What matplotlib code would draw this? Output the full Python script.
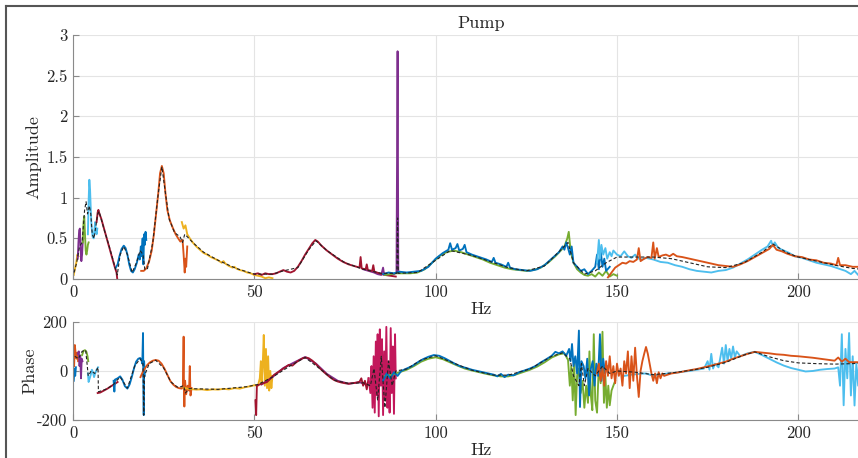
import matplotlib
matplotlib.use("Agg")
import matplotlib.pyplot as plt
from matplotlib.lines import Line2D

# ---- data (Hz, value) ----
amp_yellow0 = [(0.2, 0.05), (0.5, 0.12), (0.9, 0.2), (1.2, 0.3), (1.5, 0.28)]
amp_purple0 = [(1.3, 0.25), (1.5, 0.45), (1.7, 0.6), (1.9, 0.62), (2.1, 0.35), (2.3, 0.22),
               (2.5, 0.3), (2.7, 0.48), (2.9, 0.5)]
amp_green0 = [(2.7, 0.45), (2.9, 0.7), (3.1, 0.77), (3.3, 0.55), (3.5, 0.35), (3.7, 0.3),
              (3.9, 0.35), (4.1, 0.42), (4.3, 0.45)]
amp_lblue0 = [(4.1, 0.55), (4.3, 0.95), (4.5, 1.22), (4.7, 1.1), (4.9, 0.85), (5.1, 0.65),
              (5.4, 0.52), (5.7, 0.5), (5.9, 0.6), (6.1, 0.7), (6.3, 0.6), (6.5, 0.55), (6.7, 0.62)]
amp_dred0 = [(6.5, 0.7), (6.8, 0.82), (7.0, 0.85), (7.3, 0.8), (7.8, 0.74), (8.3, 0.66),
             (8.8, 0.58), (9.3, 0.5), (9.8, 0.42), (10.3, 0.34), (10.8, 0.26), (11.3, 0.18),
             (11.7, 0.12), (12.0, 0.08), (12.2, 0.0)]
amp_blue0 = [(11.8, 0.14), (12.3, 0.18), (12.8, 0.28), (13.4, 0.37), (14.0, 0.41), (14.5, 0.38),
             (15.0, 0.3), (15.5, 0.18), (16.0, 0.1), (16.5, 0.08), (17.0, 0.12), (17.6, 0.2),
             (18.1, 0.3), (18.4, 0.24), (18.7, 0.4), (18.9, 0.28), (19.2, 0.5), (19.4, 0.18),
             (19.6, 0.55), (19.8, 0.42), (20.0, 0.58), (20.2, 0.48)]
amp_orange1 = [(18.8, 0.1), (19.5, 0.1), (20.2, 0.13), (21.0, 0.22), (21.7, 0.35), (22.3, 0.55),
               (22.9, 0.8), (23.5, 1.05), (24.0, 1.3), (24.5, 1.39), (25.0, 1.3), (25.5, 1.05),
               (26.0, 0.85), (26.7, 0.72), (27.5, 0.63), (28.3, 0.55), (29.0, 0.5), (29.6, 0.46),
               (30.2, 0.48), (30.5, 0.3), (30.8, 0.08), (31.0, 0.25), (31.2, 0.15), (31.5, 0.4)]
amp_yellow1 = [(30.0, 0.7), (30.5, 0.62), (31.0, 0.66), (31.5, 0.55), (32.2, 0.5), (33.0, 0.45),
               (34.0, 0.4), (35.0, 0.36), (36.0, 0.32), (37.0, 0.3), (38.0, 0.27), (39.0, 0.25),
               (40.0, 0.23), (41.0, 0.2), (41.5, 0.22), (42.0, 0.19), (43.0, 0.16), (44.0, 0.14),
               (44.5, 0.15), (45.0, 0.13), (46.0, 0.11), (47.0, 0.1), (48.0, 0.08), (49.0, 0.07),
               (50.0, 0.05), (51.0, 0.04), (52.0, 0.03), (53.0, 0.01), (54.0, 0.02), (55.0, 0.01)]
amp_dred1 = [(50.0, 0.06), (51.0, 0.07), (52.0, 0.05), (53.0, 0.07), (54.0, 0.06), (55.0, 0.06),
             (56.0, 0.07), (57.0, 0.09), (58.0, 0.11), (59.0, 0.09), (60.0, 0.08), (61.0, 0.1),
             (62.0, 0.15), (63.0, 0.22), (64.0, 0.3), (65.0, 0.37), (66.0, 0.44), (66.8, 0.48),
             (67.5, 0.46), (68.5, 0.41), (70.0, 0.35), (71.5, 0.3), (73.0, 0.25), (74.5, 0.21),
             (76.0, 0.18), (77.5, 0.16), (79.0, 0.14), (79.3, 0.27), (79.6, 0.13), (80.7, 0.12),
             (81.0, 0.18), (81.3, 0.11), (82.5, 0.1), (82.8, 0.17), (83.1, 0.09), (84.5, 0.07),
             (86.0, 0.05), (87.5, 0.04), (89.0, 0.03)]
amp_purple1 = [(80.0, 0.12), (81.5, 0.1), (83.0, 0.08), (84.0, 0.06), (85.0, 0.05), (85.5, 0.14),
               (85.8, 0.05), (87.0, 0.05), (88.5, 0.06), (89.2, 0.08), (89.5, 2.8), (89.7, 0.08),
               (90.0, 0.08)]
amp_green1 = [(86.0, 0.05), (87.5, 0.06), (89.0, 0.07), (91.0, 0.07), (93.0, 0.07), (95.0, 0.08),
              (97.0, 0.12), (99.0, 0.2), (101.0, 0.28), (103.0, 0.33), (105.0, 0.35), (107.0, 0.33),
              (109.0, 0.3), (111.0, 0.27), (113.0, 0.24), (115.0, 0.2), (117.0, 0.17), (119.0, 0.14),
              (121.0, 0.12), (123.0, 0.11), (125.0, 0.1), (127.0, 0.11), (129.0, 0.14), (131.0, 0.2),
              (133.0, 0.28), (134.5, 0.35), (135.5, 0.4), (136.3, 0.5), (136.7, 0.58), (137.2, 0.35),
              (138.0, 0.2), (139.0, 0.12), (140.0, 0.08), (141.0, 0.05), (142.0, 0.04), (143.0, 0.06),
              (144.0, 0.03), (145.0, 0.08), (146.0, 0.04), (147.0, 0.1), (148.0, 0.03), (149.0, 0.06),
              (150.0, 0.04)]
amp_blue1 = [(85.5, 0.06), (87.0, 0.08), (88.5, 0.07), (90.0, 0.09), (92.0, 0.08), (94.0, 0.09),
             (96.0, 0.1), (98.0, 0.15), (100.0, 0.25), (102.0, 0.32), (103.5, 0.36), (104.0, 0.44),
             (104.5, 0.36), (105.5, 0.38), (106.0, 0.43), (106.5, 0.35), (107.5, 0.37), (108.0, 0.42),
             (108.5, 0.33), (110.0, 0.3), (112.0, 0.27), (114.0, 0.24), (115.5, 0.21), (116.0, 0.26),
             (116.5, 0.2), (118.0, 0.18), (119.5, 0.15), (120.0, 0.2), (120.5, 0.14), (122.0, 0.12),
             (124.0, 0.11), (126.0, 0.1), (128.0, 0.12), (130.0, 0.17), (132.0, 0.25), (134.0, 0.33),
             (135.0, 0.4), (135.5, 0.36), (136.0, 0.45), (136.5, 0.38), (137.0, 0.3), (137.5, 0.4),
             (138.0, 0.2), (139.0, 0.15), (140.0, 0.1), (141.0, 0.12), (142.0, 0.06), (143.0, 0.1),
             (144.0, 0.15), (144.5, 0.3), (145.0, 0.12), (145.5, 0.35), (146.0, 0.15), (146.5, 0.25),
             (147.0, 0.1), (148.0, 0.15)]
amp_lblue1 = [(144.5, 0.2), (145.0, 0.48), (145.3, 0.25), (145.7, 0.42), (146.2, 0.3), (146.8, 0.38),
              (147.3, 0.25), (148.0, 0.33), (148.5, 0.28), (149.0, 0.35), (150.0, 0.3), (151.0, 0.28),
              (152.0, 0.34), (153.0, 0.28), (154.0, 0.26), (155.0, 0.3), (156.0, 0.25), (157.0, 0.24),
              (158.0, 0.26), (160.0, 0.24), (162.0, 0.21), (164.0, 0.2), (166.0, 0.17), (168.0, 0.15),
              (170.0, 0.12), (172.0, 0.1), (174.0, 0.09), (176.0, 0.08), (178.0, 0.1), (180.0, 0.11),
              (182.0, 0.14), (184.0, 0.19), (186.0, 0.24), (188.0, 0.3), (190.0, 0.36), (191.5, 0.4),
              (192.5, 0.47), (193.0, 0.4), (193.5, 0.45), (194.5, 0.38), (196.0, 0.35), (197.5, 0.32),
              (199.0, 0.28), (201.0, 0.26), (203.0, 0.23), (205.0, 0.2), (207.0, 0.18), (209.0, 0.16),
              (211.0, 0.13), (213.0, 0.1), (214.5, 0.06), (215.5, 0.1), (216.5, 0.05), (218.0, 0.08),
              (220.0, 0.06), (222.0, 0.07), (225.0, 0.06)]
amp_orange2 = [(147.5, 0.02), (148.5, 0.08), (149.5, 0.14), (150.5, 0.17), (151.5, 0.2), (152.5, 0.19),
               (153.5, 0.22), (154.5, 0.21), (155.5, 0.24), (156.0, 0.38), (156.5, 0.22), (157.5, 0.25),
               (158.5, 0.27), (159.5, 0.26), (160.0, 0.45), (160.4, 0.25), (161.0, 0.38), (161.5, 0.27),
               (162.5, 0.29), (163.5, 0.3), (164.5, 0.28), (165.5, 0.31), (166.5, 0.28), (168.0, 0.27),
               (170.0, 0.25), (172.0, 0.23), (174.0, 0.21), (176.0, 0.19), (178.0, 0.17), (180.0, 0.16),
               (182.0, 0.15), (184.0, 0.18), (186.0, 0.22), (188.0, 0.27), (190.0, 0.32), (192.0, 0.37),
               (193.0, 0.42), (194.0, 0.36), (195.5, 0.34), (197.0, 0.31), (199.0, 0.28), (201.0, 0.27),
               (203.0, 0.24), (205.0, 0.23), (207.0, 0.2), (209.0, 0.19), (210.5, 0.17), (211.0, 0.26),
               (211.5, 0.17), (213.0, 0.17), (215.0, 0.15), (217.0, 0.15), (219.0, 0.13), (221.0, 0.14),
               (223.0, 0.12), (225.0, 0.13)]
amp_model = [(0.3, 0.08), (1.0, 0.2), (1.8, 0.4), (2.5, 0.45), (3.2, 0.85), (3.6, 0.95), (4.0, 0.8),
             (4.5, 0.9), (4.9, 0.8), (5.3, 0.55), (5.8, 0.5), (6.3, 0.65), (6.8, 0.8), (7.2, 0.83),
             (8.5, 0.62), (10.0, 0.4), (11.5, 0.16), (12.2, 0.05), (13.0, 0.3), (14.0, 0.4), (15.0, 0.3),
             (16.3, 0.08), (17.5, 0.2), (18.5, 0.35), (19.3, 0.3), (19.8, 0.12), (20.5, 0.12), (22.0, 0.45),
             (23.5, 1.05), (24.5, 1.38), (25.5, 1.05), (26.5, 0.74), (28.0, 0.57), (29.5, 0.52),
             (30.2, 0.45), (30.8, 0.55), (31.5, 0.52), (33.0, 0.45), (36.0, 0.33), (40.0, 0.23),
             (45.0, 0.13), (50.0, 0.06), (55.0, 0.06), (58.0, 0.1), (62.0, 0.14), (65.0, 0.36),
             (67.0, 0.47), (70.0, 0.35), (75.0, 0.2), (80.0, 0.12), (85.0, 0.07), (89.3, 0.07),
             (89.5, 0.75), (89.7, 0.07), (95.0, 0.08), (100.0, 0.23), (104.0, 0.35), (110.0, 0.29),
             (120.0, 0.14), (125.0, 0.1), (130.0, 0.16), (135.0, 0.38), (136.5, 0.45), (138.0, 0.2),
             (141.0, 0.06), (144.0, 0.1), (147.0, 0.2), (150.0, 0.27), (155.0, 0.27), (160.0, 0.27),
             (165.0, 0.25), (170.0, 0.2), (175.0, 0.15), (180.0, 0.14), (185.0, 0.2), (190.0, 0.33),
             (193.0, 0.43), (197.0, 0.32), (200.0, 0.27), (205.0, 0.22), (210.0, 0.17), (215.0, 0.13),
             (220.0, 0.11), (225.0, 0.1)]

ph_orange0 = [(0.3, 20), (0.5, 106), (0.8, 60), (1.0, 50), (1.2, 75), (1.4, 40)]
ph_blue0 = [(0.2, -40), (0.4, 10), (0.6, -20), (0.8, 15)]
ph_purple0 = [(1.3, 70), (1.6, 80), (1.8, 20), (2.0, 60), (2.2, -30), (2.4, 50), (2.6, 40)]
ph_green0 = [(2.5, 65), (2.9, 82), (3.3, 85), (3.7, 78), (4.0, 60), (4.2, 40)]
ph_lblue0 = [(4.1, -10), (4.3, -45), (4.6, -30), (4.9, -15), (5.2, 5), (5.5, -5), (5.8, -25),
             (6.1, -10), (6.5, 5), (6.9, 15)]
ph_dred0 = [(6.8, -90), (7.5, -88), (8.5, -80), (9.5, -72), (10.5, -62), (11.3, -55), (12.0, -48),
            (12.3, -45)]
ph_blue1 = [(11.2, -40), (11.4, -84), (11.6, -35), (12.3, -30), (13.0, -22), (13.6, -35), (14.3, -62),
            (15.0, -72), (15.6, -55), (16.2, -25), (16.8, 10), (17.4, 38), (18.0, 50), (18.5, 53),
            (18.9, 45), (19.1, 30), (19.3, 155), (19.4, -50), (19.5, -180), (19.6, 40), (19.8, -20)]
ph_orange1 = [(18.6, -25), (19.2, -5), (19.8, 10), (20.5, 25), (21.2, 35), (22.0, 42), (22.8, 45),
              (23.6, 42), (24.4, 30), (25.2, 10), (26.0, -15), (26.8, -40), (27.6, -55), (28.4, -65),
              (29.2, -70), (30.0, -72), (30.3, -60), (30.5, 140), (30.6, -80), (30.7, -145),
              (30.9, -40), (31.2, -95), (31.6, -60), (32.0, -80), (32.2, 20), (32.4, -100), (32.7, -70)]
ph_yellow1 = [(30.5, -68), (31.5, -72), (32.5, -74), (34.0, -76), (35.5, -75), (37.0, -78),
              (38.5, -75), (40.0, -76), (41.5, -73), (43.0, -75), (44.5, -70), (46.0, -72),
              (47.5, -66), (49.0, -62), (50.0, -58), (51.0, -60), (51.5, -30), (51.8, 40),
              (52.0, -50), (52.3, 20), (52.6, 147), (52.9, -60), (53.2, 90), (53.5, -70),
              (53.8, 60), (54.1, -80), (54.4, 0), (54.7, -70), (55.0, -20)]
ph_dred1 = [(50.3, -120), (50.5, -180), (50.7, -60), (51.5, -55), (52.5, -50), (53.5, -45),
            (54.5, -30), (55.5, -15), (56.5, -5), (57.5, 5), (58.5, 15), (59.5, 25), (60.5, 22),
            (61.5, 35), (62.5, 45), (63.5, 53), (64.3, 55), (65.0, 52), (66.0, 42), (67.0, 28),
            (68.0, 12), (69.0, -2), (70.0, -15), (71.0, -27), (72.0, -37), (73.0, -43), (74.0, -47),
            (75.0, -50), (76.0, -52), (77.0, -50), (78.0, -48), (79.0, -44), (79.5, -30),
            (80.0, -60), (80.5, -40), (81.0, -75), (81.5, -30)]
ph_dred2 = [(81.5, -30), (82.0, -90), (82.3, 20), (82.6, -150), (82.9, 60), (83.2, -170),
            (83.5, 120), (83.8, -100), (84.0, 150), (84.3, -185), (84.6, 170), (84.9, -60),
            (85.2, 130), (85.5, -180), (85.8, 80), (86.1, -120), (86.4, 180), (86.7, -150),
            (87.0, 40), (87.3, -170), (87.6, 175), (87.9, -90), (88.2, 100), (88.5, -175),
            (88.8, 150), (89.0, -30)]
ph_purple1 = [(52.0, -55), (55.0, -25), (58.0, 12), (61.0, 35), (64.0, 57), (67.0, 30),
              (70.0, -12), (73.0, -40), (76.0, -52), (79.0, -46), (82.0, -60), (84.0, -20),
              (86.0, -70), (88.0, 20)]
ph_blue2 = [(85.5, -40), (86.5, -10), (87.5, -30), (88.5, -5), (89.5, -20), (90.5, 0), (92.0, 10),
            (93.5, 20), (95.0, 35), (96.5, 48), (98.0, 58), (99.5, 65), (101.0, 62), (102.5, 52),
            (104.0, 40), (105.5, 28), (107.0, 18), (108.5, 12), (110.0, 5), (111.5, 0), (113.0, -5),
            (114.5, -10), (116.0, -15), (117.0, -22), (118.0, -12), (119.0, -25), (120.0, -15),
            (121.5, -18), (123.0, -5), (124.5, 2), (126.0, 10), (127.5, 20), (129.0, 35),
            (130.5, 48), (132.0, 62), (133.0, 78), (134.0, 72), (135.0, 80), (136.0, 62),
            (136.8, 90), (137.2, 40), (137.6, 110), (138.0, 20), (138.5, 60), (139.0, -10),
            (139.5, 165), (139.8, -147), (140.2, 40), (140.8, 20), (141.3, -30), (141.8, 50),
            (142.3, -100), (142.8, 10), (143.3, 40), (143.8, -60), (144.3, 30), (144.8, -20),
            (145.3, 150), (145.7, -40), (146.2, 50), (146.7, -10), (147.2, 20)]
ph_green2 = [(86.0, -20), (88.0, -15), (90.0, -5), (92.0, 5), (94.0, 20), (96.0, 38), (98.0, 50),
             (100.0, 56), (102.0, 48), (104.0, 35), (106.0, 22), (108.0, 10), (110.0, 2),
             (112.0, -5), (114.0, -12), (116.0, -18), (118.0, -22), (120.0, -22), (122.0, -15),
             (124.0, -5), (126.0, 5), (128.0, 18), (130.0, 35), (132.0, 55), (134.0, 68),
             (135.5, 72), (136.5, 45), (137.0, -60), (137.4, 20), (137.8, -120), (138.2, 30),
             (138.6, -180), (139.0, -20), (139.4, 10), (140.0, -90), (140.5, -40), (141.0, -150),
             (141.5, -60), (142.0, -130), (142.4, 80), (142.8, -100), (143.2, -160), (143.6, 150),
             (144.0, -120), (144.5, -170), (145.0, 30), (145.5, -50), (146.0, 160), (146.4, -130),
             (146.8, -20), (147.2, -150), (147.6, -60), (148.0, -140), (148.5, -80), (149.0, -60),
             (149.5, -40)]
ph_orange2 = [(144.5, -10), (145.0, 30), (145.5, -40), (146.0, 10), (146.5, -60), (147.0, 40),
              (147.5, -20), (148.0, 60), (148.5, -30), (149.0, 20), (149.5, -50), (150.0, 30),
              (150.5, -20), (151.0, 10), (151.5, -60), (152.0, 40), (152.5, -10), (153.0, 80),
              (153.5, -70), (154.0, 60), (154.5, -40), (155.0, 95), (155.5, -20), (156.0, -106),
              (156.5, 0), (157.0, 40), (157.5, 70), (158.0, 98), (158.5, 70), (159.0, 30),
              (159.5, -10), (160.0, -40), (160.5, -10), (161.0, -50), (161.5, -5), (162.0, -30),
              (162.5, -10), (163.0, -20), (164.0, -15), (165.0, -10), (166.0, -8), (168.0, -3),
              (170.0, 3), (172.0, 8), (174.0, 15), (176.0, 22), (178.0, 30), (180.0, 38),
              (182.0, 50), (184.0, 60), (186.0, 70), (188.0, 78), (190.0, 75), (192.0, 72),
              (194.0, 68), (196.0, 66), (198.0, 62), (200.0, 60), (202.0, 57), (204.0, 54),
              (206.0, 50), (208.0, 46), (210.0, 42), (211.0, 55), (212.0, 38), (213.0, 50),
              (214.0, 36), (216.0, 36), (218.0, 35), (220.0, 38), (222.0, 34), (225.0, 36)]
ph_lblue2 = [(152.0, -20), (154.0, -15), (156.0, -12), (158.0, -10), (160.0, -20), (162.0, -15),
             (164.0, -10), (166.0, -8), (168.0, -3), (170.0, 0), (172.0, 5), (174.0, 10),
             (175.0, 40), (175.5, 5), (176.0, 70), (176.5, 10), (177.0, 30), (178.0, 15),
             (179.0, 95), (179.5, 30), (180.0, 106), (180.5, 40), (181.0, 90), (181.5, 50),
             (182.0, 100), (182.5, 55), (183.0, 80), (184.0, 60), (186.0, 72), (188.0, 78),
             (190.0, 65), (192.0, 50), (194.0, 35), (196.0, 22), (198.0, 12), (200.0, 5),
             (202.0, -2), (204.0, 0), (206.0, 5), (208.0, 8), (210.0, 10), (211.0, 15),
             (211.5, -60), (212.0, 150), (212.5, -140), (213.0, 90), (213.5, -30), (214.0, 155),
             (214.5, -100), (215.0, 60), (215.5, -141), (216.0, 30), (216.5, -60), (217.0, 120),
             (217.5, -20), (218.0, -100), (218.5, 40)]
ph_model = [(0.5, 60), (1.5, 50), (2.5, 80), (3.5, 85), (4.2, -20), (5.0, 0), (6.0, -10), (6.9, 15),
            (7.0, -85), (9.0, -75), (11.0, -58), (12.0, -40), (13.0, -25), (15.0, -70), (17.0, 20),
            (18.5, 50), (19.3, 30), (19.5, -180), (19.7, -20), (21.0, 30), (22.8, 44), (25.0, 12),
            (27.0, -45), (29.0, -68), (30.5, -60), (31.0, -90), (32.0, -72), (40.0, -75), (48.0, -64),
            (51.0, -55), (55.0, -25), (60.0, 22), (64.0, 55), (68.0, 10), (72.0, -38), (76.0, -51),
            (80.0, -48), (82.0, -60), (83.0, 10), (84.0, -120), (85.0, 60), (86.0, -150), (87.0, 40),
            (88.0, -60), (89.0, 0), (92.0, 8), (96.0, 45), (100.0, 62), (104.0, 38), (110.0, 3),
            (116.0, -17), (120.0, -17), (126.0, 8), (132.0, 60), (135.0, 74), (137.0, 50),
            (138.0, -20), (139.5, -60), (140.2, 30), (141.0, -60), (142.0, 10), (144.0, -20),
            (146.0, 20), (148.0, -10), (150.0, 0), (155.0, -5), (160.0, -15), (165.0, -8),
            (170.0, 2), (175.0, 15), (180.0, 35), (185.0, 65), (188.0, 78), (192.0, 58), (196.0, 42),
            (200.0, 33), (205.0, 30), (210.0, 28), (215.0, 30), (220.0, 35), (225.0, 35)]

x_ticks = [0, 50, 100, 150, 200]
amp_ticks = [0, 0.5, 1, 1.5, 2, 2.5, 3]
amp_ticklabels = ["0", "0.5", "1", "1.5", "2", "2.5", "3"]
ph_ticks = [-200, 0, 200]

# MATLAB default line colours
blue, orange, yellow = "#0072BD", "#D95319", "#EDB120"
purple, green, lblue, dred = "#7E2F8E", "#77AC30", "#4DBEEE", "#A2142F"

plt.rcParams["font.family"] = ["cmr10", "DejaVu Serif"]
plt.rcParams["axes.unicode_minus"] = False
plt.rcParams["mathtext.fontset"] = "cm"

fig = plt.figure(figsize=(8.58, 4.58), dpi=100)
fig.patch.set_facecolor("white")
ax1 = fig.add_axes([0.0851, 0.3908, 0.951, 0.5328])
ax2 = fig.add_axes([0.0851, 0.083, 0.951, 0.214])


def draw(ax, pts, color, lw=1.35, ls="-", z=2):
    xs = [p[0] for p in pts]
    ys = [p[1] for p in pts]
    ax.plot(xs, ys, color=color, lw=lw, ls=ls, zorder=z)


amp_series = [(amp_yellow0, yellow), (amp_purple0, purple), (amp_green0, green),
              (amp_lblue0, lblue), (amp_dred0, dred), (amp_blue0, blue),
              (amp_orange1, orange), (amp_yellow1, yellow), (amp_purple1, purple),
              (amp_dred1, dred), (amp_green1, green), (amp_blue1, blue),
              (amp_lblue1, lblue), (amp_orange2, orange)]
for pts, c in amp_series:
    draw(ax1, pts, c)
draw(ax1, amp_model, "#222222", lw=0.8, ls=(0, (3, 2)), z=3)

ph_series = [(ph_orange0, orange), (ph_blue0, blue), (ph_purple0, purple), (ph_green0, green),
             (ph_lblue0, lblue), (ph_dred0, dred), (ph_blue1, blue), (ph_orange1, orange),
             (ph_yellow1, yellow), (ph_purple1, purple), (ph_dred1, dred), (ph_dred2, "#C2185B"),
             (ph_green2, green), (ph_blue2, blue), (ph_lblue2, lblue), (ph_orange2, orange)]
for pts, c in ph_series:
    draw(ax2, pts, c)
draw(ax2, ph_model, "#222222", lw=0.8, ls=(0, (3, 2)), z=3)

for ax in (ax1, ax2):
    ax.set_xlim(0, 225)
    ax.set_xticks(x_ticks)
    ax.grid(True, color="#e4e4e4", lw=0.8)
    ax.set_axisbelow(True)
    for s in ("top", "right"):
        ax.spines[s].set_visible(False)
    for s in ("left", "bottom"):
        ax.spines[s].set_color("#8a8a8a")
        ax.spines[s].set_linewidth(0.8)
    ax.tick_params(direction="in", length=4, width=0.8, color="#8a8a8a",
                   labelsize=12, labelcolor="#262626", pad=4)
    ax.set_xlabel("Hz", fontsize=13, color="#262626", labelpad=1)

ax1.set_ylim(0, 3)
ax1.set_yticks(amp_ticks)
ax1.set_yticklabels(amp_ticklabels)
ax1.set_ylabel("Amplitude", fontsize=13, color="#262626", labelpad=3)
ax1.set_title("Pump", fontsize=13, color="#262626", pad=5)

ax2.set_ylim(-200, 200)
ax2.set_yticks(ph_ticks)
ax2.set_ylabel("Phase", fontsize=13, color="#262626", labelpad=0)

# screenshot frame
fig.add_artist(Line2D([5.5 / 858, 5.5 / 858], [0, 1 - 6 / 458], transform=fig.transFigure,
                      color="#555555", lw=1.5))
fig.add_artist(Line2D([5.5 / 858, 1], [1 - 6 / 458, 1 - 6 / 458], transform=fig.transFigure,
                      color="#555555", lw=1.5))

fig.savefig("out.png", dpi=100)
